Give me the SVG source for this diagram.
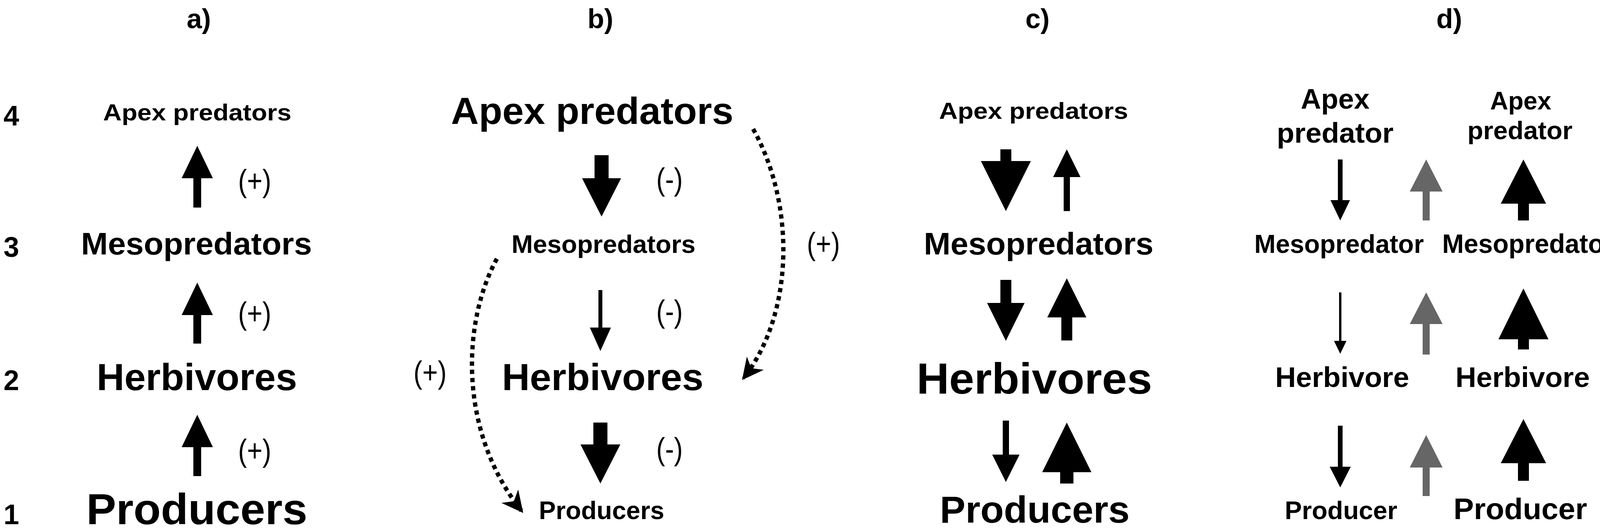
<svg xmlns="http://www.w3.org/2000/svg" width="4177" height="1361" viewBox="0 0 4177 1361">
<style>
text{font-family:"Liberation Sans",Arial,sans-serif;text-anchor:middle;fill:#000}
.b{font-weight:bold}
.s{font-size:80px}
.g{fill:#666}
.d{fill:none;stroke:#000;stroke-width:11;stroke-dasharray:11 10}
</style>
<defs>
<marker id="ah" viewBox="0 0 10 10" refX="9" refY="5" markerWidth="5" markerHeight="5" markerUnits="strokeWidth" orient="auto">
<path d="M0,0 L10,5 L0,10 L3,5 Z" fill="#000"/>
</marker>
</defs>
<rect width="4177" height="1361" fill="#fff"/>
<g id="titles" class="b">
<text x="509" y="72" font-size="70">a)</text>
<text x="1537" y="72" font-size="70">b)</text>
<text x="2656" y="72" font-size="70">c)</text>
<text x="3710" y="72" font-size="70">d)</text>
</g>
<g id="levels" class="b" font-size="72">
<text x="29" y="321">4</text>
<text x="29" y="657">3</text>
<text x="29" y="998">2</text>
<text x="29" y="1341">1</text>
</g>
<g id="panel-a">
<g id="a-apex"><text class="b" x="505" y="308" font-size="60" textLength="482" lengthAdjust="spacingAndGlyphs">Apex predators</text></g>
<g id="a-meso"><text class="b" x="503" y="651" font-size="80" textLength="591" lengthAdjust="spacingAndGlyphs">Mesopredators</text></g>
<g id="a-herb"><text class="b" x="504" y="998" font-size="96" textLength="513" lengthAdjust="spacingAndGlyphs">Herbivores</text></g>
<g id="a-prod"><text class="b" x="504" y="1341" font-size="112" textLength="566" lengthAdjust="spacingAndGlyphs">Producers</text></g>
</g>
<g id="panel-b">
<g id="b-apex"><text class="b" x="1516" y="317" font-size="96" textLength="723" lengthAdjust="spacingAndGlyphs">Apex predators</text></g>
<g id="b-meso"><text class="b" x="1545" y="647" font-size="64" textLength="471" lengthAdjust="spacingAndGlyphs">Mesopredators</text></g>
<g id="b-herb"><text class="b" x="1543" y="998" font-size="96" textLength="516" lengthAdjust="spacingAndGlyphs">Herbivores</text></g>
<g id="b-prod"><text class="b" x="1540" y="1328" font-size="64" textLength="321" lengthAdjust="spacingAndGlyphs">Producers</text></g>
</g>
<g id="panel-c">
<g id="c-apex"><text class="b" x="2646" y="304" font-size="60" textLength="484" lengthAdjust="spacingAndGlyphs">Apex predators</text></g>
<g id="c-meso"><text class="b" x="2659" y="651" font-size="80" textLength="588" lengthAdjust="spacingAndGlyphs">Mesopredators</text></g>
<g id="c-herb"><text class="b" x="2648" y="1007" font-size="112" textLength="603" lengthAdjust="spacingAndGlyphs">Herbivores</text></g>
<g id="c-prod"><text class="b" x="2649" y="1337" font-size="96" textLength="486" lengthAdjust="spacingAndGlyphs">Producers</text></g>
</g>
<g id="panel-d">
<g id="d-apex-l"><text class="b" x="3418" y="278" font-size="72">Apex</text><text class="b" x="3418" y="365" font-size="72" textLength="299" lengthAdjust="spacingAndGlyphs">predator</text></g>
<g id="d-apex-r"><text class="b" x="3893" y="280" font-size="64">Apex</text><text class="b" x="3891" y="356" font-size="64" textLength="269" lengthAdjust="spacingAndGlyphs">predator</text></g>
<g id="d-meso-l"><text class="b" x="3428" y="647" font-size="66" textLength="434" lengthAdjust="spacingAndGlyphs">Mesopredator</text></g>
<g id="d-meso-r"><text class="b" x="3912" y="647" font-size="68" textLength="440" lengthAdjust="spacingAndGlyphs">Mesopredator</text></g>
<g id="d-herb-l"><text class="b" x="3436" y="990" font-size="72" textLength="343" lengthAdjust="spacingAndGlyphs">Herbivore</text></g>
<g id="d-herb-r"><text class="b" x="3898" y="990" font-size="72" textLength="344" lengthAdjust="spacingAndGlyphs">Herbivore</text></g>
<g id="d-prod-l"><text class="b" x="3433" y="1328" font-size="64" textLength="288" lengthAdjust="spacingAndGlyphs">Producer</text></g>
<g id="d-prod-r"><text class="b" x="3892" y="1328" font-size="76" textLength="342" lengthAdjust="spacingAndGlyphs">Producer</text></g>
</g>
<g id="connectors">
<path d="M505,373 L545,456 L515,456 L515,531 L495,531 L495,456 L465,456 Z"/>
<path d="M505,723 L545,806 L515,806 L515,879 L495,879 L495,806 L465,806 Z"/>
<path d="M505,1061 L545,1144 L515,1144 L515,1218 L495,1218 L495,1144 L465,1144 Z"/>
<path d="M1522,397 L1558,397 L1558,456 L1590,456 L1540,554 L1490,456 L1522,456 Z"/>
<path d="M1532,742 L1542,742 L1542,838 L1564,838 L1537,898 L1510,838 L1532,838 Z"/>
<path d="M1519,1081 L1555,1081 L1555,1137 L1588,1137 L1537,1237 L1486,1137 L1519,1137 Z"/>
<path class="d" d="M1272,662 C1185,820 1170,1100 1336,1308" marker-end="url(#ah)"/>
<path class="d" d="M1928,330 C2035,520 2035,800 1903,968" marker-end="url(#ah)"/>
<path d="M2561,382 L2589,382 L2589,412 L2639,412 L2575,540 L2511,412 L2561,412 Z"/>
<path d="M2561,716 L2589,716 L2589,775 L2623,775 L2575,872 L2527,775 L2561,775 Z"/>
<path d="M2567,1076 L2583,1076 L2583,1163 L2610,1163 L2575,1233 L2540,1163 L2567,1163 Z"/>
<path d="M2731,382 L2766,453 L2739,453 L2739,540 L2723,540 L2723,453 L2696,453 Z"/>
<path d="M2731,712 L2781,812 L2745,812 L2745,871 L2717,871 L2717,812 L2681,812 Z"/>
<path d="M2731,1081 L2794,1208 L2748,1208 L2748,1237 L2714,1237 L2714,1208 L2668,1208 Z"/>
<path d="M3425,408 L3437,408 L3437,512 L3456,512 L3431,564 L3406,512 L3425,512 Z"/>
<path d="M3428,748 L3434,748 L3434,872 L3447,872 L3431,905 L3415,872 L3428,872 Z"/>
<path d="M3425,1089 L3437,1089 L3437,1194 L3458,1194 L3431,1247 L3404,1194 L3425,1194 Z"/>
<path class="g" d="M3651,408 L3693,490 L3660,490 L3660,564 L3642,564 L3642,490 L3609,490 Z"/>
<path class="g" d="M3651,748 L3693,829 L3660,829 L3660,907 L3642,907 L3642,829 L3609,829 Z"/>
<path class="g" d="M3651,1113 L3693,1196 L3660,1196 L3660,1269 L3642,1269 L3642,1196 L3609,1196 Z"/>
<path d="M3900,408 L3958,521 L3914,521 L3914,564 L3886,564 L3886,521 L3842,521 Z"/>
<path d="M3900,738 L3964,868 L3914,868 L3914,894 L3886,894 L3886,868 L3836,868 Z"/>
<path d="M3900,1072 L3958,1185 L3914,1185 L3914,1230 L3886,1230 L3886,1185 L3842,1185 Z"/>
</g>
<g id="signs" class="s">
<text x="652" y="490" textLength="85" lengthAdjust="spacingAndGlyphs">(+)</text>
<text x="652" y="829" textLength="85" lengthAdjust="spacingAndGlyphs">(+)</text>
<text x="652" y="1180" textLength="85" lengthAdjust="spacingAndGlyphs">(+)</text>
<text x="1714" y="486" textLength="68" lengthAdjust="spacingAndGlyphs">(-)</text>
<text x="1714" y="824" textLength="68" lengthAdjust="spacingAndGlyphs">(-)</text>
<text x="1714" y="1176" textLength="68" lengthAdjust="spacingAndGlyphs">(-)</text>
<text x="1101" y="980" textLength="85" lengthAdjust="spacingAndGlyphs">(+)</text>
<text x="2108" y="651" textLength="85" lengthAdjust="spacingAndGlyphs">(+)</text>
</g>
</svg>
